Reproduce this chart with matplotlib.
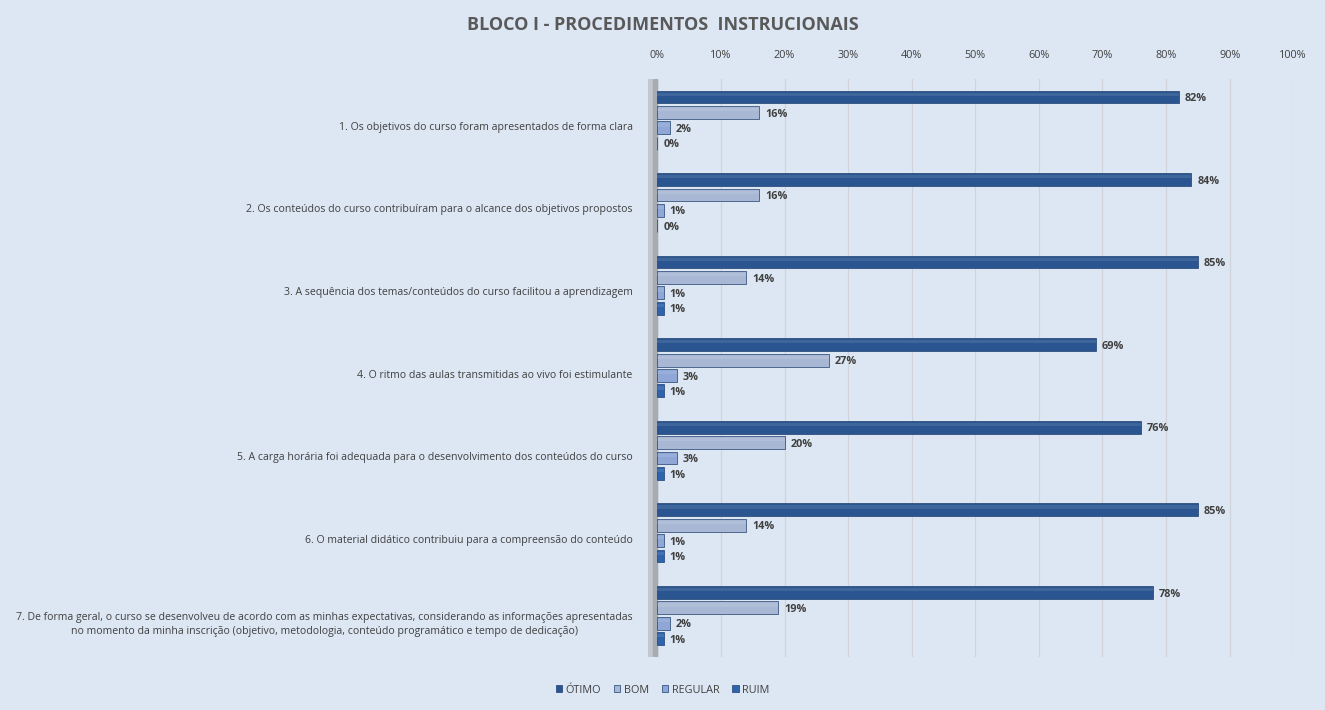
import numpy as np
import matplotlib
matplotlib.use("Agg")
import matplotlib.pyplot as plt
from matplotlib.patches import Patch

plt.rcParams['font.family'] = ['Open Sans', 'DejaVu Sans']

# Data
perguntas = [
    "1. Os objetivos do curso foram apresentados de forma clara",
    "2. Os conteúdos do curso contribuíram para o alcance dos objetivos propostos",
    "3. A sequência dos temas/conteúdos do curso facilitou a aprendizagem",
    "4. O ritmo das aulas transmitidas ao vivo foi estimulante",
    "5. A carga horária foi adequada para o desenvolvimento dos conteúdos do curso",
    "6. O material didático contribuiu para a compreensão do conteúdo",
    "7. De forma geral, o curso se desenvolveu de acordo com as minhas expectativas, considerando as informações apresentadas\n"
    "no momento da minha inscrição (objetivo, metodologia, conteúdo programático e tempo de dedicação)",
]
otimo = [82, 84, 85, 69, 76, 85, 78]
bom = [16, 16, 14, 27, 20, 14, 19]
regular = [2, 1, 1, 3, 3, 1, 2]
ruim = [0, 0, 1, 1, 1, 1, 1]

series = [("ÓTIMO", otimo, "#2a5590"), ("BOM", bom, "#a8b7d4"),
          ("REGULAR", regular, "#8ea7d6"), ("RUIM", ruim, "#2e63ae")]

bg = "#dde7f3"
txt = "#404040"

fig = plt.figure(figsize=(13.25, 7.1), dpi=100, facecolor=bg)
ax = fig.add_axes([0.489, 0.075, 0.487, 0.814], facecolor=bg)

y = np.arange(len(perguntas))
offsets = [-0.28, -0.093, 0.093, 0.28]
h = 0.155

for (nome, vals, cor), off in zip(series, offsets):
    ax.barh(y + off, vals, height=h, color=cor, edgecolor="#1f3f6e",
            linewidth=0.5, zorder=3)
    # light strip on top for a bit of the bevel look
    ax.barh(y + off - h * 0.22, vals, height=h * 0.25, color="white",
            alpha=0.10, linewidth=0, zorder=4)
    for yy, v in zip(y + off, vals):
        ax.text(v + 0.9, yy + 0.02, f"{v}%", va="center", ha="left",
                fontsize=7.8, color=txt, fontweight="bold", zorder=5)

# left "wall"
ax.axvspan(-1.5, 0, color="#c4c8ce", zorder=2)
ax.axvspan(-0.7, 0, color="#a7acb4", zorder=2)

ax.set_xlim(-1.5, 100)
ax.set_ylim(len(perguntas) - 0.5, -0.5)
ax.set_xticks(np.arange(0, 101, 10))
ax.set_xticklabels([f"{t}%" for t in range(0, 101, 10)])
ax.xaxis.tick_top()
ax.tick_params(axis="x", length=0, pad=13, labelsize=7.8, labelcolor=txt)
ax.set_yticks(y + 0.07)
ax.set_yticklabels(perguntas, fontsize=7.6, color=txt, ha="right",
                   multialignment="center", linespacing=1.35)
ax.tick_params(axis="y", length=0, pad=11)
ax.grid(axis="x", color="#d0d4da", linewidth=0.9, zorder=1)
for s in ax.spines.values():
    s.set_visible(False)

fig.text(0.5, 0.965, "BLOCO I - PROCEDIMENTOS  INSTRUCIONAIS", ha="center",
         va="center", fontsize=13, fontweight="bold", color="#595959")

handles = [Patch(facecolor=c, edgecolor="#1f3f6e", linewidth=0.5, label=n)
           for n, _, c in series]
fig.legend(handles=handles, loc="center", bbox_to_anchor=(0.5, 0.028),
           ncol=4, frameon=False, fontsize=7.8, handlelength=0.6,
           handleheight=0.6, handletextpad=0.3, columnspacing=1.2,
           labelcolor=txt)

fig.savefig("out.png", dpi=100, facecolor=bg)
